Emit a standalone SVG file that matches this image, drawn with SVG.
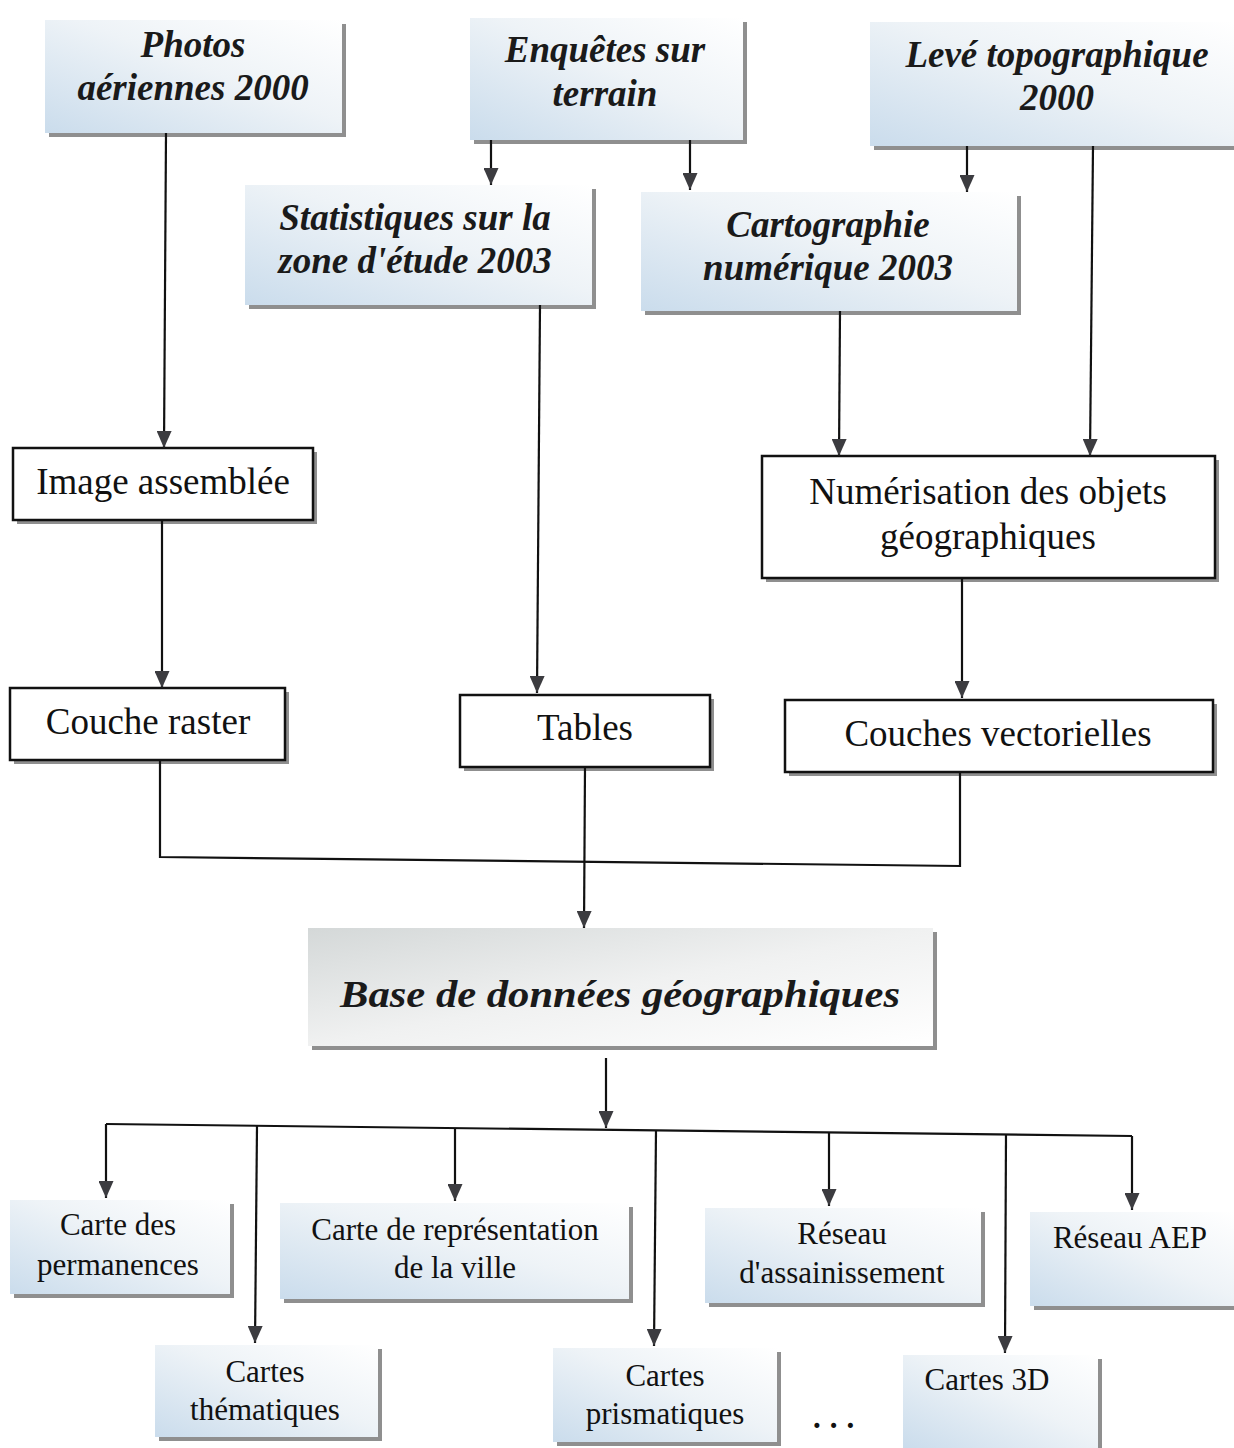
<svg xmlns="http://www.w3.org/2000/svg" width="1234" height="1448" viewBox="0 0 1234 1448">
  <defs>
    <linearGradient id="sky" x1="0" y1="1" x2="1" y2="0">
      <stop offset="0" stop-color="#cadcec"/>
      <stop offset="0.55" stop-color="#eef3f7"/>
      <stop offset="1" stop-color="#ffffff"/>
    </linearGradient>
    <linearGradient id="haze" x1="0" y1="0" x2="1" y2="1">
      <stop offset="0" stop-color="#d4d8d8"/>
      <stop offset="0.5" stop-color="#f0f1f1"/>
      <stop offset="1" stop-color="#ffffff"/>
    </linearGradient>
    <marker id="arrow" viewBox="0 0 17 15" refX="17" refY="7.5" markerWidth="17" markerHeight="15" orient="auto" markerUnits="userSpaceOnUse">
      <path d="M0,0 L17,7.5 L0,15 Z" fill="#3c3c40"/>
    </marker>
    <style>
      .shadow { fill: #8f8f8f; }
      .soft { fill: url(#sky); }
      .plain { fill: #ffffff; stroke: #111111; stroke-width: 2.5; }
      .title { font-family: "Liberation Serif", "Times New Roman", serif; font-weight: bold; font-style: italic; font-size: 37px; fill: #1a1a1a; text-anchor: middle; }
      .label { font-family: "Liberation Serif", "Times New Roman", serif; font-size: 37px; fill: #111111; text-anchor: middle; }
      .small { font-family: "Liberation Serif", "Times New Roman", serif; font-size: 31px; fill: #111111; text-anchor: middle; }
      .wire { fill: none; stroke: #111111; stroke-width: 2.2; }
      .tip { fill: none; stroke: #111111; stroke-width: 2.2; marker-end: url(#arrow); }
    </style>
  </defs>

  <rect width="1234" height="1448" fill="#ffffff"/>

  <!-- sources -->
  <g id="photos">
    <rect class="shadow" x="49" y="24" width="297" height="113"/>
    <rect class="soft" x="45" y="20" width="297" height="113"/>
    <text class="title" x="193" y="57">Photos</text>
    <text class="title" x="193" y="100">aériennes 2000</text>
  </g>
  <g id="enquetes">
    <rect class="shadow" x="474" y="22" width="273" height="122"/>
    <rect class="soft" x="470" y="18" width="273" height="122"/>
    <text class="title" x="605" y="62">Enquêtes sur</text>
    <text class="title" x="605" y="106">terrain</text>
  </g>
  <g id="leve">
    <rect class="shadow" x="874" y="26" width="364" height="124"/>
    <rect class="soft" x="870" y="22" width="364" height="124"/>
    <text class="title" x="1057" y="67">Levé topographique</text>
    <text class="title" x="1057" y="110">2000</text>
  </g>
  <g id="statistiques">
    <rect class="shadow" x="249" y="189" width="347" height="120"/>
    <rect class="soft" x="245" y="185" width="347" height="120"/>
    <text class="title" x="415" y="230">Statistiques sur la</text>
    <text class="title" x="415" y="273">zone d'étude 2003</text>
  </g>
  <g id="cartographie">
    <rect class="shadow" x="645" y="196" width="376" height="119"/>
    <rect class="soft" x="641" y="192" width="376" height="119"/>
    <text class="title" x="828" y="237">Cartographie</text>
    <text class="title" x="828" y="280">numérique 2003</text>
  </g>

  <!-- processing -->
  <g id="image-assemblee">
    <rect class="shadow" x="17" y="452" width="300" height="72"/>
    <rect class="plain" x="13" y="448" width="300" height="72"/>
    <text class="label" x="163" y="494">Image assemblée</text>
  </g>
  <g id="numerisation">
    <rect class="shadow" x="766" y="460" width="453" height="122"/>
    <rect class="plain" x="762" y="456" width="453" height="122"/>
    <text class="label" x="988" y="504">Numérisation des objets</text>
    <text class="label" x="988" y="549">géographiques</text>
  </g>
  <g id="couche-raster">
    <rect class="shadow" x="14" y="692" width="275" height="72"/>
    <rect class="plain" x="10" y="688" width="275" height="72"/>
    <text class="label" x="148" y="734">Couche raster</text>
  </g>
  <g id="tables">
    <rect class="shadow" x="464" y="699" width="250" height="72"/>
    <rect class="plain" x="460" y="695" width="250" height="72"/>
    <text class="label" x="585" y="740">Tables</text>
  </g>
  <g id="couches-vectorielles">
    <rect class="shadow" x="789" y="704" width="428" height="72"/>
    <rect class="plain" x="785" y="700" width="428" height="72"/>
    <text class="label" x="998" y="746">Couches vectorielles</text>
  </g>

  <!-- database -->
  <g id="base">
    <rect class="shadow" x="312" y="932" width="625" height="118"/>
    <rect x="308" y="928" width="625" height="118" fill="url(#haze)"/>
    <text class="title" x="620" y="1007" font-size="46" textLength="560" lengthAdjust="spacingAndGlyphs">Base de données géographiques</text>
  </g>

  <!-- products -->
  <g id="carte-permanences">
    <rect class="shadow" x="14" y="1204" width="220" height="94"/>
    <rect class="soft" x="10" y="1200" width="220" height="94"/>
    <text class="small" x="118" y="1235">Carte des</text>
    <text class="small" x="118" y="1275">permanences</text>
  </g>
  <g id="carte-representation">
    <rect class="shadow" x="284" y="1207" width="349" height="96"/>
    <rect class="soft" x="280" y="1203" width="349" height="96"/>
    <text class="small" x="455" y="1240">Carte de représentation</text>
    <text class="small" x="455" y="1278">de la ville</text>
  </g>
  <g id="reseau-assainissement">
    <rect class="shadow" x="709" y="1212" width="276" height="95"/>
    <rect class="soft" x="705" y="1208" width="276" height="95"/>
    <text class="small" x="842" y="1244">Réseau</text>
    <text class="small" x="842" y="1283">d'assainissement</text>
  </g>
  <g id="reseau-aep">
    <rect class="shadow" x="1034" y="1216" width="204" height="94"/>
    <rect class="soft" x="1030" y="1212" width="204" height="94"/>
    <text class="small" x="1130" y="1248">Réseau AEP</text>
  </g>
  <g id="cartes-thematiques">
    <rect class="shadow" x="159" y="1349" width="223" height="92"/>
    <rect class="soft" x="155" y="1345" width="223" height="92"/>
    <text class="small" x="265" y="1382">Cartes</text>
    <text class="small" x="265" y="1420">thématiques</text>
  </g>
  <g id="cartes-prismatiques">
    <rect class="shadow" x="557" y="1352" width="224" height="94"/>
    <rect class="soft" x="553" y="1348" width="224" height="94"/>
    <text class="small" x="665" y="1386">Cartes</text>
    <text class="small" x="665" y="1424">prismatiques</text>
  </g>
  <g id="cartes-3d">
    <rect class="shadow" x="907" y="1359" width="195" height="93"/>
    <rect class="soft" x="903" y="1355" width="195" height="93"/>
    <text class="small" x="987" y="1390">Cartes 3D</text>
  </g>
  <g id="etc">
    <text class="small" x="838" y="1428" font-weight="bold" font-size="34" letter-spacing="9">...</text>
  </g>

  <!-- connectors -->
  <g id="connectors">
    <path class="tip" d="M166,133 L164,448"/>
    <path class="tip" d="M491,140 L491,185"/>
    <path class="tip" d="M690,140 L690,190"/>
    <path class="tip" d="M967,146 L967,192"/>
    <path class="tip" d="M1093,146 L1090,456"/>
    <path class="tip" d="M540,305 L537,693"/>
    <path class="tip" d="M840,311 L839,456"/>
    <path class="tip" d="M162,520 L162,688"/>
    <path class="tip" d="M962,578 L962,698"/>
    <path class="wire" d="M160,760 L160,857 L960,866 L960,772"/>
    <path class="tip" d="M585,767 L584,928"/>
    <path class="tip" d="M606,1058 L606,1128"/>
    <path class="wire" d="M106,1124 L1132,1136"/>
    <path class="tip" d="M106,1124 L106,1198"/>
    <path class="tip" d="M257,1126 L255,1343"/>
    <path class="tip" d="M455,1128 L455,1201"/>
    <path class="tip" d="M656,1130 L654,1346"/>
    <path class="tip" d="M829,1132 L829,1206"/>
    <path class="tip" d="M1006,1134 L1005,1353"/>
    <path class="tip" d="M1132,1136 L1132,1210"/>
  </g>
</svg>
